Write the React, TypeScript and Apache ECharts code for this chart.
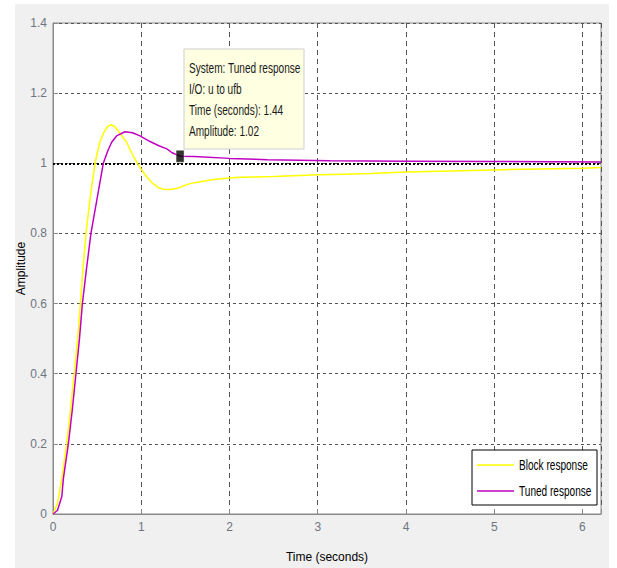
import React, { useEffect, useRef } from "react";
import * as echarts from "echarts";

const blockT = [0, 0.05, 0.1, 0.155, 0.2, 0.24, 0.28, 0.31, 0.34, 0.374, 0.42, 0.476, 0.53, 0.58, 0.62, 0.658, 0.7, 0.76, 0.835, 0.9, 0.98, 1.05, 1.12, 1.2, 1.25, 1.32, 1.4, 1.55, 1.7, 1.82, 2.0, 2.12, 2.5, 2.8, 3.0, 3.3, 3.6, 4.0, 4.5, 5.0, 5.5, 6.0, 6.21];
const blockV = [0, 0.03, 0.1, 0.2, 0.3, 0.4, 0.5, 0.6, 0.7, 0.8, 0.9, 1.0, 1.06, 1.09, 1.105, 1.11, 1.105, 1.085, 1.06, 1.025, 0.99, 0.965, 0.945, 0.93, 0.926, 0.925, 0.928, 0.942, 0.949, 0.954, 0.958, 0.96, 0.962, 0.965, 0.967, 0.969, 0.971, 0.975, 0.978, 0.981, 0.984, 0.986, 0.988];

const tunedT = [0, 0.05, 0.1, 0.117, 0.174, 0.22, 0.26, 0.3, 0.333, 0.38, 0.43, 0.5, 0.57, 0.62, 0.665, 0.72, 0.816, 0.9, 0.98, 1.1, 1.2, 1.29, 1.35, 1.44, 1.6, 2.0, 2.43, 3.14, 4.0, 5.0, 6.21];
const tunedV = [0, 0.01, 0.05, 0.1, 0.2, 0.3, 0.4, 0.5, 0.6, 0.7, 0.8, 0.9, 1.0, 1.035, 1.06, 1.078, 1.09, 1.087, 1.079, 1.062, 1.05, 1.041, 1.03, 1.02, 1.019, 1.014, 1.01, 1.007, 1.006, 1.005, 1.004];

const markerPoint = [1.44, 1.02];
const dataTipLines = ["System: Tuned response", "I/O: u to ufb", "Time (seconds): 1.44", "Amplitude: 1.02"];
const seriesNames = ["Block response", "Tuned response"];
const seriesColors = ["#ffff00", "#c000c0"];

const FONT = "'Liberation Sans', Arial, sans-serif";

export default function App() {
  const ref = useRef<HTMLDivElement>(null);
  useEffect(() => {
    if (!ref.current) return;
    const chart = echarts.init(ref.current, undefined, { renderer: "svg" });
    const block = blockT.map((t, i) => [t, blockV[i]]);
    const tuned = tunedT.map((t, i) => [t, tunedV[i]]);
    const Z = 100;
    const SX = 0.72;
    const FS = 14;
    chart.setOption({
      animation: false,
      backgroundColor: "transparent",
      grid: {
        left: 53, top: 23, right: 16, bottom: 50,
        show: true, backgroundColor: "#ffffff", borderColor: "#8a8a8a", borderWidth: 1,
      },
      xAxis: {
        type: "value", min: 0, max: 6.21, interval: 1,
        name: "Time (seconds)", nameLocation: "middle", nameGap: 37, nameMoveOverlap: false,
        nameTextStyle: { fontFamily: FONT, fontSize: 12, color: "#000" },
        axisLine: { lineStyle: { color: "#8a8a8a" } },
        axisTick: { inside: true, length: 5, lineStyle: { color: "#8a8a8a" } },
        axisLabel: {
          fontFamily: FONT, fontSize: 12, color: "#6e7580", margin: 7,
          formatter: (v: number) => (Math.abs(v - Math.round(v)) < 1e-6 ? String(Math.round(v)) : ""),
        },
        splitLine: { show: true, lineStyle: { color: "#555", type: [5, 4], width: 1 } },
      },
      yAxis: {
        type: "value", min: 0, max: 1.4, interval: 0.2,
        name: "Amplitude", nameLocation: "middle", nameGap: 26, nameMoveOverlap: false,
        nameTextStyle: { fontFamily: FONT, fontSize: 12, color: "#000" },
        axisLine: { show: true, lineStyle: { color: "#8a8a8a" } },
        axisTick: { show: true, inside: true, length: 5, lineStyle: { color: "#8a8a8a" } },
        axisLabel: { fontFamily: FONT, fontSize: 12, color: "#6e7580", margin: 6 },
        splitLine: { show: true, lineStyle: { color: "#555", type: [3, 3], width: 1 } },
      },
      series: [
        {
          name: seriesNames[0], type: "line", data: block, symbol: "none",
          lineStyle: { color: seriesColors[0], width: 1.5 }, itemStyle: { color: seriesColors[0] },
          z: 3,
        },
        {
          name: seriesNames[1], type: "line", data: tuned, symbol: "none",
          lineStyle: { color: seriesColors[1], width: 1.5 }, itemStyle: { color: seriesColors[1] },
          z: 4,
          markLine: {
            silent: true, symbol: "none", label: { show: false },
            lineStyle: { color: "#000", type: [2, 2], width: 2 },
            data: [{ yAxis: 1 }],
            z: 2,
          },
        },
        {
          type: "scatter", data: [markerPoint], symbol: "rect", symbolSize: [8, 12],
          itemStyle: { color: "#000", borderColor: "#fffff0", borderWidth: 0.5 }, z: 6,
        },
      ],
      graphic: [
        { type: "rect", z: Z, shape: { x: 184, y: 49, width: 120, height: 100 }, style: { fill: "#ffffe1", stroke: "#cfcfcf", lineWidth: 1 } },
        ...dataTipLines.map((s, i) => ({
          type: "text", z: Z + 1, x: 189, y: 68 + i * 21, scaleX: SX,
          style: { text: s, fontFamily: FONT, fontSize: FS, fill: "#1a1a1a", textVerticalAlign: "middle" },
        })),
        { type: "rect", z: Z, shape: { x: 472, y: 450, width: 125, height: 55 }, style: { fill: "#ffffff", stroke: "#000", lineWidth: 1 } },
        ...seriesNames.map((s, i) => ({
          type: "line", z: Z + 1, shape: { x1: 477, y1: 465 + i * 26, x2: 514, y2: 465 + i * 26 },
          style: { stroke: seriesColors[i], lineWidth: 1.5 },
        })),
        ...seriesNames.map((s, i) => ({
          type: "text", z: Z + 1, x: 519, y: 465 + i * 26, scaleX: SX,
          style: { text: s, fontFamily: FONT, fontSize: FS, fill: "#000", textVerticalAlign: "middle" },
        })),
      ],
    });
    return () => chart.dispose();
  }, []);
  return (
    <div style={{ position: "fixed", left: 0, top: 0, width: 617, height: 568, background: "#fff" }}>
      <div style={{ position: "absolute", left: 15, top: 4, width: 594, height: 564, background: "#f0f0f0" }} />
      <div ref={ref} style={{ position: "absolute", left: 0, top: 0, width: 617, height: 568 }} />
    </div>
  );
}
